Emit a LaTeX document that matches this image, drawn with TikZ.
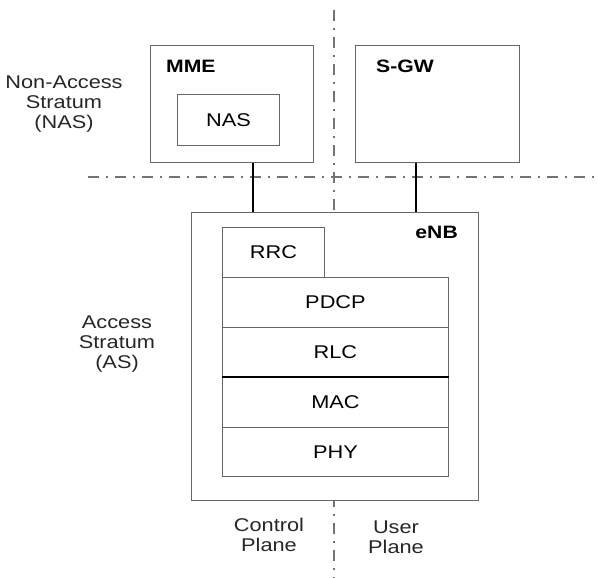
\documentclass[tikz,border=0pt]{standalone}
\usepackage{fontspec}
\setmainfont{Liberation Sans}[FakeStretch=1.18]
\begin{document}
\begin{tikzpicture}[x=1bp,y=-1bp,
  box/.style={draw=black!60, line width=0.9bp, fill=white, inner sep=0pt, anchor=north west},
  layer/.style={box, font=\fontsize{18.5}{20}\selectfont},
  lbl/.style={font=\fontsize{18.5}{20}\selectfont, align=center, inner sep=0pt, text=black!85},
  blbl/.style={font=\bfseries\fontsize{18}{20}\selectfont, inner sep=0pt},
  conn/.style={line width=2bp, black},
  divider/.style={draw=black!55, line width=1.3bp, dash pattern=on 11bp off 7bp on 2bp off 7bp}]
\useasboundingbox (0,0) rectangle (598,578);
% dividers
\coordinate (hl) at (88,177);
\coordinate (hr) at (598,177);
\coordinate (vt) at (334,10);
\coordinate (vb) at (334,578);
\draw[divider] (hl) -- (hr);
\draw[divider] (vt) -- (vb);
% top boxes
\node[box, minimum width=163bp, minimum height=117bp] (mme) at (150,45) {};
\node[box, minimum width=164bp, minimum height=117bp] (sgw) at (355,45) {};
\node[blbl, anchor=west] (mmel) at (166,66) {MME};
\node[blbl, anchor=west] (sgwl) at (376,66) {S-GW};
\node[layer, minimum width=102bp, minimum height=51bp] (nas) at (177,94) {NAS};
% eNB
\node[box, minimum width=287bp, minimum height=288bp] (enb) at (191,212) {};
\node[blbl, anchor=east] (enbl) at (458,232) {eNB};
\node[layer, minimum width=102bp, minimum height=50bp] (rrc) at (222,227) {RRC};
\node[layer, minimum width=226bp, minimum height=50bp] (pdcp) at (222,277) {PDCP};
\node[layer, minimum width=226bp, minimum height=50bp] (rlc) at (222,327) {RLC};
\node[layer, minimum width=226bp, minimum height=50bp] (mac) at (222,377) {MAC};
\node[layer, minimum width=226bp, minimum height=49bp] (phy) at (222,427) {PHY};
\draw[black, line width=1.1bp] (mac.north west) -- (mac.north east);
% connectors
\draw[conn] (mme.south west) ++(103,0) coordinate (c1) -- (c1 |- enb.north);
\draw[conn] (sgw.south west) ++(61,0) coordinate (c2) -- (c2 |- enb.north);
% side labels
\node[lbl] (nasl) at (64,104) {Non-Access\\Stratum\\(NAS)};
\node[lbl] (asl) at (117,344) {Access\\Stratum\\(AS)};
\node[lbl] (cpl) at (269,535) {Control\\Plane};
\node[lbl] (upl) at (396,537) {User\\Plane};
\end{tikzpicture}
\end{document}
